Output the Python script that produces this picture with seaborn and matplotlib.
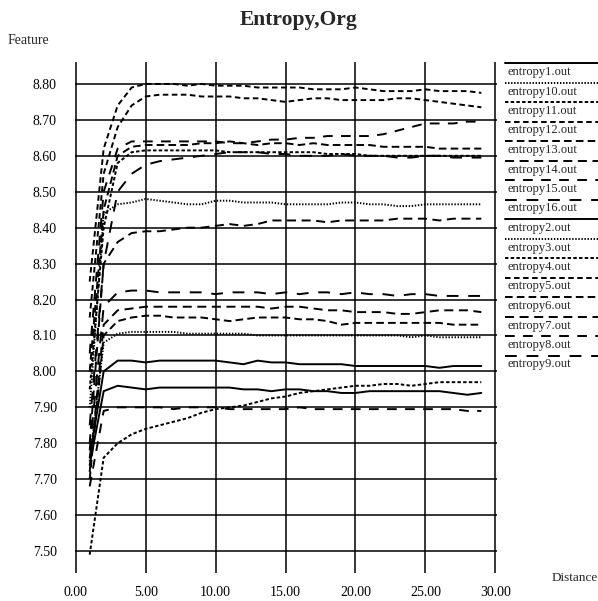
import numpy as np
import pandas as pd
import matplotlib
matplotlib.use("Agg")
import matplotlib.pyplot as plt
import seaborn as sns

# ---- data -------------------------------------------------------------
distance = list(range(1, 30))

entropy1 = [7.76, 8.00, 8.03, 8.03, 8.025, 8.03, 8.03, 8.03, 8.03, 8.03, 8.025, 8.02, 8.03, 8.025, 8.025,
            8.02, 8.02, 8.02, 8.02, 8.015, 8.015, 8.015, 8.015, 8.015, 8.015, 8.01, 8.015, 8.015, 8.015]
entropy10 = [7.90, 8.44, 8.465, 8.47, 8.48, 8.475, 8.47, 8.465, 8.465, 8.475, 8.475, 8.47, 8.47, 8.47, 8.465,
             8.465, 8.465, 8.465, 8.47, 8.47, 8.465, 8.465, 8.46, 8.46, 8.465, 8.465, 8.465, 8.465, 8.465]
entropy11 = [7.95, 8.40, 8.58, 8.61, 8.615, 8.615, 8.615, 8.615, 8.615, 8.615, 8.61, 8.61, 8.61, 8.61, 8.61,
             8.61, 8.61, 8.605, 8.605, 8.605, 8.60, 8.60, 8.60, 8.60, 8.60, 8.60, 8.60, 8.60, 8.60]
entropy12 = [8.25, 8.62, 8.74, 8.79, 8.80, 8.80, 8.80, 8.795, 8.80, 8.795, 8.795, 8.795, 8.79, 8.79, 8.79,
             8.79, 8.785, 8.785, 8.785, 8.79, 8.785, 8.78, 8.78, 8.78, 8.785, 8.78, 8.78, 8.78, 8.775]
entropy13 = [8.00, 8.45, 8.60, 8.625, 8.63, 8.63, 8.63, 8.63, 8.635, 8.635, 8.64, 8.635, 8.63, 8.635, 8.635,
             8.63, 8.635, 8.63, 8.63, 8.63, 8.63, 8.625, 8.625, 8.625, 8.625, 8.62, 8.62, 8.62, 8.62]
entropy14 = [7.80, 8.30, 8.36, 8.385, 8.39, 8.39, 8.395, 8.40, 8.40, 8.405, 8.41, 8.405, 8.41, 8.42, 8.42,
             8.42, 8.42, 8.415, 8.42, 8.42, 8.42, 8.42, 8.425, 8.425, 8.425, 8.42, 8.425, 8.425, 8.425]
entropy15 = [8.05, 8.50, 8.62, 8.64, 8.64, 8.64, 8.64, 8.64, 8.64, 8.64, 8.635, 8.635, 8.64, 8.645, 8.645,
             8.65, 8.65, 8.655, 8.655, 8.655, 8.655, 8.66, 8.67, 8.68, 8.69, 8.69, 8.69, 8.695, 8.695]
entropy16 = [7.85, 8.30, 8.50, 8.55, 8.575, 8.585, 8.59, 8.595, 8.60, 8.605, 8.61, 8.61, 8.61, 8.605, 8.605,
             8.60, 8.60, 8.60, 8.605, 8.60, 8.60, 8.60, 8.595, 8.595, 8.60, 8.60, 8.595, 8.595, 8.595]
entropy2 = [7.74, 7.945, 7.96, 7.955, 7.95, 7.955, 7.955, 7.955, 7.955, 7.955, 7.955, 7.95, 7.95, 7.945, 7.95,
            7.95, 7.945, 7.945, 7.94, 7.94, 7.945, 7.945, 7.945, 7.945, 7.945, 7.945, 7.94, 7.935, 7.94]
entropy3 = [7.75, 8.08, 8.105, 8.11, 8.11, 8.11, 8.11, 8.105, 8.105, 8.105, 8.105, 8.105, 8.10, 8.10, 8.10,
            8.10, 8.10, 8.10, 8.10, 8.10, 8.10, 8.10, 8.10, 8.095, 8.10, 8.095, 8.095, 8.095, 8.095]
entropy4 = [7.49, 7.76, 7.80, 7.825, 7.84, 7.85, 7.86, 7.87, 7.885, 7.895, 7.90, 7.905, 7.915, 7.925, 7.93,
            7.94, 7.945, 7.95, 7.955, 7.96, 7.96, 7.965, 7.965, 7.96, 7.965, 7.97, 7.97, 7.97, 7.97]
entropy5 = [8.15, 8.55, 8.68, 8.74, 8.765, 8.77, 8.77, 8.77, 8.765, 8.765, 8.765, 8.76, 8.76, 8.755, 8.75,
            8.755, 8.76, 8.76, 8.755, 8.755, 8.755, 8.755, 8.76, 8.76, 8.755, 8.75, 8.745, 8.74, 8.735]
entropy6 = [7.70, 8.10, 8.14, 8.15, 8.155, 8.155, 8.15, 8.15, 8.15, 8.145, 8.14, 8.145, 8.15, 8.15, 8.15,
            8.145, 8.145, 8.14, 8.13, 8.135, 8.135, 8.135, 8.135, 8.135, 8.135, 8.135, 8.13, 8.13, 8.13]
entropy7 = [7.72, 8.13, 8.17, 8.175, 8.18, 8.18, 8.18, 8.18, 8.18, 8.18, 8.18, 8.18, 8.18, 8.175, 8.18,
            8.18, 8.175, 8.17, 8.17, 8.165, 8.165, 8.165, 8.16, 8.16, 8.165, 8.17, 8.17, 8.17, 8.165]
entropy8 = [7.68, 7.89, 7.90, 7.90, 7.90, 7.90, 7.895, 7.90, 7.90, 7.90, 7.895, 7.895, 7.895, 7.895, 7.895,
            7.90, 7.895, 7.895, 7.895, 7.895, 7.895, 7.895, 7.895, 7.895, 7.895, 7.895, 7.895, 7.89, 7.89]
entropy9 = [7.78, 8.18, 8.22, 8.225, 8.225, 8.22, 8.22, 8.22, 8.22, 8.215, 8.22, 8.22, 8.22, 8.215, 8.22,
            8.215, 8.22, 8.22, 8.215, 8.22, 8.215, 8.215, 8.21, 8.215, 8.215, 8.21, 8.21, 8.21, 8.21]

series_names = ["entropy1.out", "entropy10.out", "entropy11.out", "entropy12.out",
                "entropy13.out", "entropy14.out", "entropy15.out", "entropy16.out",
                "entropy2.out", "entropy3.out", "entropy4.out", "entropy5.out",
                "entropy6.out", "entropy7.out", "entropy8.out", "entropy9.out"]
series_values = [entropy1, entropy10, entropy11, entropy12, entropy13, entropy14, entropy15, entropy16,
                 entropy2, entropy3, entropy4, entropy5, entropy6, entropy7, entropy8, entropy9]

y_ticks = [7.50, 7.60, 7.70, 7.80, 7.90, 8.00, 8.10, 8.20, 8.30, 8.40, 8.50, 8.60, 8.70, 8.80]
x_ticks = [0, 5, 10, 15, 20, 25, 30]

# ---- styling ----------------------------------------------------------
sns.set_theme(style="white")
plt.rcParams["font.family"] = ["Liberation Serif", "DejaVu Serif"]
plt.rcParams["lines.scale_dashes"] = False

# eight line patterns, cycled over the sixteen files
patterns = ["", (1.0, 1.2), (2.5, 1.6), (4.0, 2.5), (5.5, 3.0), (6.5, 4.0), (7.0, 6.0), (8.5, 7.0)]
dash_map = {name: patterns[i % 8] for i, name in enumerate(series_names)}

df = pd.concat(
    [pd.DataFrame({"Distance": distance, "Feature": vals, "file": name})
     for name, vals in zip(series_names, series_values)],
    ignore_index=True,
)

W, H = 598, 601
fig = plt.figure(figsize=(W / 100, H / 100), dpi=100)
fig.patch.set_facecolor("white")

left, right, top, bottom = 75, 497, 62, 573
ax = fig.add_axes([left / W, 1 - bottom / H, (right - left) / W, (bottom - top) / H])
ax.set_facecolor("white")

sns.lineplot(data=df, x="Distance", y="Feature", hue="file", style="file",
             palette={n: "black" for n in series_names}, dashes=dash_map,
             estimator=None, linewidth=1.4, legend=False, ax=ax)

ax.set_xlim(-0.05, 30.12)
ax.set_ylim(7.439, 8.861)
ax.set_xticks(x_ticks)
ax.set_yticks(y_ticks)
ax.set_xticklabels([f"{v:.2f}" for v in x_ticks])
ax.set_yticklabels([f"{v:.2f}" for v in y_ticks])
ax.tick_params(axis="both", length=0, labelsize=10, colors="black")
ax.tick_params(axis="y", pad=13)
ax.tick_params(axis="x", pad=9)
ax.grid(True, color="black", linewidth=1.1)
ax.set_axisbelow(True)
for s in ax.spines.values():
    s.set_visible(False)
ax.set_xlabel("")
ax.set_ylabel("")

# titles and axis captions
fig.text(0.5, 1 - 20 / H, "Entropy,Org", ha="center", va="center",
         fontsize=15.5, fontweight="bold")
fig.text(8 / W, 1 - 40 / H, "Feature", ha="left", va="center", fontsize=10)
fig.text(552 / W, 1 - 578 / H, "Distance", ha="left", va="center", fontsize=9.5)

# key on the right: pattern sample above each file name
lax = fig.add_axes([0, 0, 1, 1])
lax.set_xlim(0, W)
lax.set_ylim(H, 0)
lax.axis("off")
for i, name in enumerate(series_names):
    y_line = 63 + i * 19.5
    lax.plot([505, 598], [y_line, y_line], color="black", linewidth=1.4,
             dashes=dash_map[name] if dash_map[name] else (None, None),
             linestyle="-" if not dash_map[name] else "--")
    lax.text(507, y_line + 9, name, ha="left", va="center", fontsize=9)

fig.savefig("out.png", dpi=100, facecolor="white")
